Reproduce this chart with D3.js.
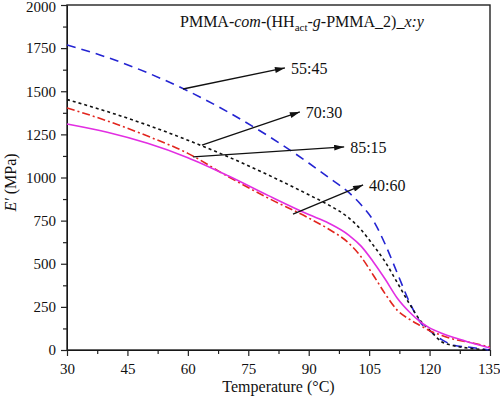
<!DOCTYPE html>
<html>
<head>
<meta charset="utf-8">
<script src="https://cdn.jsdelivr.net/npm/d3@7"></script>
<style>
  body { margin: 0; background: #fff; }
  svg text { font-family: "Liberation Serif", "DejaVu Serif", "Noto Serif", "Times New Roman", serif; }
</style>
</head>
<body>
<svg width="500" height="397"></svg>
<script>
// temperature grid shared by all four curves
var temps   = [30, 40, 50, 60, 70, 80, 90, 95, 100, 103, 106, 109, 112, 115, 118, 120, 123, 126, 130, 135];
var e5545   = [1768, 1696, 1607, 1502, 1379, 1240, 1084, 999, 912, 842, 752, 612, 445, 278, 152, 112, 60, 28, 16, 0];
var e7030   = [1452, 1382, 1304, 1216, 1120, 1014, 900, 840, 765, 697, 608, 510, 390, 268, 162, 116, 48, 25, 10, 0];
var e8515   = [1403, 1328, 1240, 1140, 1005, 880, 765, 700, 618, 540, 435, 325, 230, 178, 138, 112, 85, 62, 44, 17];
var e4060   = [1310, 1262, 1198, 1115, 1010, 895, 785, 735, 665, 602, 512, 410, 300, 220, 158, 128, 97, 72, 44, 12];

var xTicks  = [30, 45, 60, 75, 90, 105, 120, 135];
var yTicks  = [0, 250, 500, 750, 1000, 1250, 1500, 1750, 2000];

// arrow annotations: start on curve -> arrow tip, label after tip
var annoLabels = ['55:45', '70:30', '85:15', '40:60'];
var annoFromT  = [58.8, 63.5, 61.3, 86.1];
var annoFromE  = [1513, 1188, 1119, 788];
var annoToT    = [84.1, 87.8, 98.8, 103.5];
var annoToE    = [1635, 1380, 1177, 957];

var serif = '"Liberation Serif", "DejaVu Serif", "Noto Serif", "Times New Roman", serif';

var svg = d3.select('svg'),
  margin = {left: 67, right: 10, top: 5, bottom: 47},
  w = +svg.attr('width') - margin.left - margin.right,
  h = +svg.attr('height') - margin.top - margin.bottom,
  g = svg.append('g').attr('transform', 'translate(' + margin.left + ',' + margin.top + ')');

var x = d3.scaleLinear().domain([30, 135]).range([0, w]);
var y = d3.scaleLinear().domain([0, 2000]).range([h, 0]);

// minor ticks
g.append('g')
  .attr('transform', 'translate(0,' + h + ')')
  .call(d3.axisBottom(x).tickValues(d3.range(37.5, 135, 15)).tickSize(4).tickSizeOuter(0).tickFormat(''))
  .call(function(a) { a.select('.domain').remove(); });
g.append('g')
  .call(d3.axisLeft(y).tickValues(d3.range(125, 2000, 250)).tickSize(4).tickSizeOuter(0).tickFormat(''))
  .call(function(a) { a.select('.domain').remove(); });

// major axes
var xAxis = g.append('g')
  .attr('transform', 'translate(0,' + h + ')')
  .call(d3.axisBottom(x).tickValues(xTicks).tickSize(6).tickSizeOuter(0).tickPadding(4).tickFormat(d3.format('d')));
var yAxis = g.append('g')
  .call(d3.axisLeft(y).tickValues(yTicks).tickSize(6).tickSizeOuter(0).tickPadding(5).tickFormat(d3.format('d')));

svg.selectAll('g').attr('font-family', null);
svg.selectAll('.tick line').attr('stroke', '#222').attr('stroke-width', 1.2);
svg.selectAll('.tick text').attr('font-size', 15).attr('fill', '#111')
  .style('font-family', serif);
xAxis.selectAll('.tick text').attr('dy', '0.9em');
// keep the edge labels inside the picture
xAxis.selectAll('.tick text').filter(function(d) { return d === 135; }).attr('text-anchor', 'end').attr('dx', 10);
yAxis.selectAll('.tick text').filter(function(d) { return d === 2000; }).attr('dy', '0.45em');

// frame
g.append('rect')
  .attr('width', w).attr('height', h)
  .attr('fill', 'none').attr('stroke', '#222').attr('stroke-width', 1.4);

var series = [
  {vals: e5545, color: '#2424d2', dash: '9,6'},
  {vals: e7030, color: '#111', dash: '3,3'},
  {vals: e8515, color: '#e2261f', dash: '8,3,2,3'},
  {vals: e4060, color: '#e22ee2', dash: null}
];

var line = d3.line()
  .x(function(d) { return x(d[0]); })
  .y(function(d) { return y(d[1]); })
  .curve(d3.curveMonotoneX);

g.selectAll('path.curve')
  .data(series)
  .enter().append('path')
  .attr('class', 'curve')
  .attr('fill', 'none')
  .attr('stroke', function(d) { return d.color; })
  .attr('stroke-width', 1.6)
  .attr('stroke-dasharray', function(d) { return d.dash; })
  .attr('d', function(d) { return line(temps.map(function(t, i) { return [t, d.vals[i]]; })); });

// arrowheads
svg.append('defs').append('marker')
  .attr('id', 'arrow')
  .attr('viewBox', '0 0 10 6')
  .attr('refX', 10).attr('refY', 3)
  .attr('markerWidth', 12).attr('markerHeight', 6)
  .attr('markerUnits', 'userSpaceOnUse')
  .attr('orient', 'auto')
  .append('path').attr('d', 'M0,0L10,3L0,6Z').attr('fill', '#111');

var anno = g.selectAll('g.anno')
  .data(annoLabels)
  .enter().append('g').attr('class', 'anno');

anno.append('line')
  .attr('x1', function(d, i) { return x(annoFromT[i]); })
  .attr('y1', function(d, i) { return y(annoFromE[i]); })
  .attr('x2', function(d, i) { return x(annoToT[i]); })
  .attr('y2', function(d, i) { return y(annoToE[i]); })
  .attr('stroke', '#111').attr('stroke-width', 1.3)
  .attr('marker-end', 'url(#arrow)');

anno.append('text')
  .attr('x', function(d, i) { return x(annoToT[i]) + 6; })
  .attr('y', function(d, i) { return y(annoToE[i]); })
  .attr('dy', '0.35em')
  .attr('font-size', 16).attr('fill', '#111')
  .style('font-family', serif)
  .text(function(d) { return d; });

// title inside plot
var title = g.append('text')
  .attr('x', 113).attr('y', 22)
  .attr('font-size', 16).attr('fill', '#111')
  .style('font-family', serif);
title.append('tspan').text('PMMA-');
title.append('tspan').attr('font-style', 'italic').text('com');
title.append('tspan').text('-(HH');
title.append('tspan').attr('font-size', 11).attr('dy', 4).text('act');
title.append('tspan').attr('dy', -4).text('-');
title.append('tspan').attr('font-style', 'italic').text('g');
title.append('tspan').text('-PMMA_2)_');
title.append('tspan').attr('font-style', 'italic').text('x:y');

// axis titles
svg.append('text')
  .attr('x', margin.left + w / 2).attr('y', 392)
  .attr('text-anchor', 'middle')
  .attr('font-size', 16).attr('fill', '#111')
  .style('font-family', serif)
  .text('Temperature (°C)');

var yt = svg.append('text')
  .attr('transform', 'translate(16,' + (margin.top + h / 2 + 5) + ') rotate(-90)')
  .attr('text-anchor', 'middle')
  .attr('font-size', 16).attr('fill', '#111')
  .style('font-family', serif);
yt.append('tspan').attr('font-style', 'italic').text('E′');
yt.append('tspan').text(' (MPa)');
</script>
</body>
</html>
